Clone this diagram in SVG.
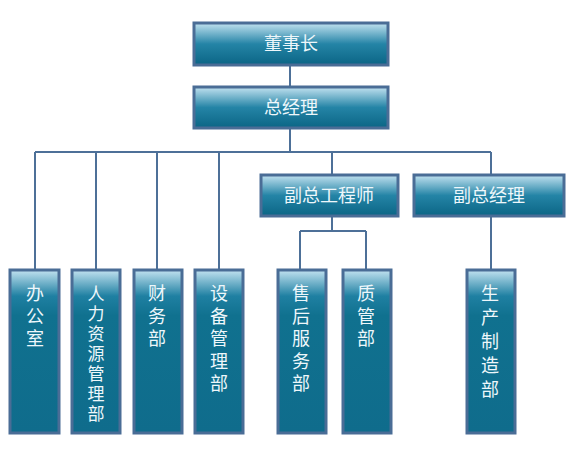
<svg xmlns="http://www.w3.org/2000/svg" width="571" height="452" viewBox="0 0 571 452">
<defs>
<linearGradient id="gH" x1="0" y1="0" x2="0" y2="1">
<stop offset="0" stop-color="#c2e2f0"/>
<stop offset="0.5" stop-color="#2484a6"/>
<stop offset="1" stop-color="#0b6585"/>
</linearGradient>
<linearGradient id="gV" x1="0" y1="0" x2="0" y2="1">
<stop offset="0" stop-color="#c2e2f0"/>
<stop offset="0.16" stop-color="#1f80a2"/>
<stop offset="0.28" stop-color="#10718f"/>
<stop offset="1" stop-color="#0f6c8c"/>
</linearGradient>
<style>
.h rect{fill:url(#gH);stroke:#4a6d96;stroke-width:3}
.v rect{fill:url(#gV);stroke:#4a6d96;stroke-width:3}
text{font-family:"Noto Sans CJK SC","Noto Sans",sans-serif;font-size:18px;fill:#eef7fb;text-anchor:middle}
.s{font-size:17px}
#links path{fill:none;stroke:#4d7098;stroke-width:2}
</style>
</defs>
<g id="links">
<path d="M290 65V86"/>
<path d="M290 128V152M35 152H491M35 152V269M96 152V269M157 152V269M219 152V269M332 152V175M491 152V175"/>
<path d="M332 216V231M300 231H366M300 231V269M366 231V269"/>
<path d="M491 216V269"/>
</g>
<g id="n1" class="h"><rect x="194" y="23" width="194" height="42"/><text x="291" y="50">董事长</text></g>
<g id="n2" class="h"><rect x="194" y="87" width="194" height="41"/><text x="291" y="114">总经理</text></g>
<g id="n3" class="h"><rect x="261" y="175" width="137" height="41"/><text x="329" y="202">副总工程师</text></g>
<g id="n4" class="h"><rect x="414" y="175" width="150" height="41"/><text x="489" y="202">副总经理</text></g>
<g id="n5" class="v"><rect x="10" y="270" width="49" height="163"/><text x="35" y="300"><tspan x="35">办</tspan><tspan x="35" dy="22.5">公</tspan><tspan x="35" dy="22.5">室</tspan></text></g>
<g id="n6" class="v"><rect x="72" y="270" width="48" height="163"/><text class="s" x="96" y="300"><tspan x="96">人</tspan><tspan x="96" dy="20">力</tspan><tspan x="96" dy="20">资</tspan><tspan x="96" dy="20">源</tspan><tspan x="96" dy="20">管</tspan><tspan x="96" dy="20">理</tspan><tspan x="96" dy="20">部</tspan></text></g>
<g id="n7" class="v"><rect x="134" y="270" width="48" height="163"/><text x="157" y="300"><tspan x="157">财</tspan><tspan x="157" dy="22.5">务</tspan><tspan x="157" dy="22.5">部</tspan></text></g>
<g id="n8" class="v"><rect x="195" y="270" width="48" height="163"/><text x="219" y="300"><tspan x="219">设</tspan><tspan x="219" dy="22.5">备</tspan><tspan x="219" dy="22.5">管</tspan><tspan x="219" dy="22.5">理</tspan><tspan x="219" dy="22.5">部</tspan></text></g>
<g id="n9" class="v"><rect x="278" y="270" width="48" height="163"/><text x="301" y="300"><tspan x="301">售</tspan><tspan x="301" dy="22.5">后</tspan><tspan x="301" dy="22.5">服</tspan><tspan x="301" dy="22.5">务</tspan><tspan x="301" dy="22.5">部</tspan></text></g>
<g id="n10" class="v"><rect x="343" y="270" width="48" height="163"/><text x="366" y="300"><tspan x="366">质</tspan><tspan x="366" dy="22.5">管</tspan><tspan x="366" dy="22.5">部</tspan></text></g>
<g id="n11" class="v"><rect x="467" y="270" width="48" height="163"/><text x="490" y="300"><tspan x="490">生</tspan><tspan x="490" dy="24">产</tspan><tspan x="490" dy="24">制</tspan><tspan x="490" dy="24">造</tspan><tspan x="490" dy="24">部</tspan></text></g>
</svg>
